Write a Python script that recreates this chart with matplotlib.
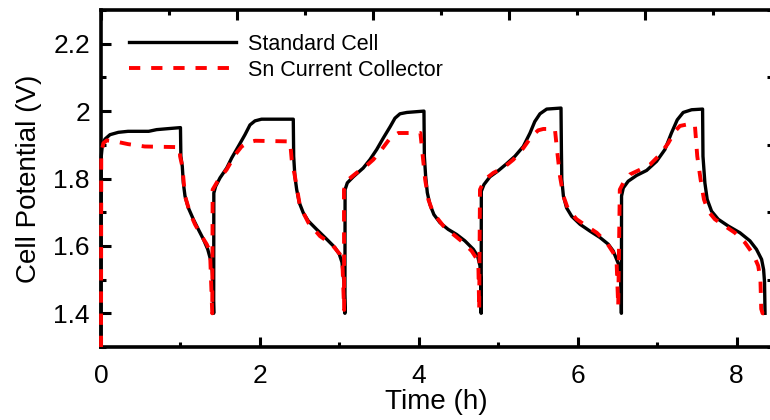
import matplotlib
matplotlib.use('Agg')
import matplotlib.pyplot as plt
from matplotlib.ticker import MultipleLocator, FormatStrFormatter

# data: time (h) and cell potential (V)
t_std = [0.0, 0.003, 0.017, 0.05, 0.113, 0.218, 0.34, 0.6, 0.70, 0.847, 1.0,
         1.005, 1.023, 1.036, 1.057, 1.099, 1.162, 1.225, 1.288, 1.343, 1.372, 1.393, 1.405, 1.418,
         1.42, 1.443, 1.498, 1.582, 1.645, 1.728, 1.812, 1.875, 1.938, 2.02, 2.42,
         2.425, 2.44, 2.463, 2.496, 2.546, 2.609, 2.714, 2.84, 2.945, 3.0, 3.033, 3.058, 3.07,
         3.072, 3.1, 3.175, 3.3, 3.385, 3.47, 3.553, 3.64, 3.7, 3.763, 3.85, 4.065,
         4.07, 4.086, 4.107, 4.14, 4.19, 4.266, 4.37, 4.476, 4.58, 4.686, 4.74, 4.77, 4.782, 4.785,
         4.787, 4.82, 4.895, 5.0, 5.106, 5.21, 5.315, 5.4, 5.46, 5.525, 5.61, 5.79,
         5.795, 5.80, 5.82, 5.86, 5.924, 6.03, 6.154, 6.28, 6.385, 6.447, 6.49, 6.523, 6.544, 6.55,
         6.552, 6.574, 6.636, 6.741, 6.868, 6.993, 7.098, 7.18, 7.253, 7.328, 7.434, 7.572,
         7.577, 7.601, 7.63, 7.685, 7.769, 7.895, 8.042, 8.168, 8.25, 8.315, 8.34, 8.352, 8.358]
v_std = [1.30, 1.866, 1.90, 1.917, 1.93, 1.937, 1.94, 1.94, 1.945, 1.948, 1.951,
         1.866, 1.836, 1.787, 1.748, 1.713, 1.679, 1.649, 1.620, 1.590, 1.565, 1.546, 1.511, 1.40,
         1.757, 1.777, 1.802, 1.831, 1.861, 1.895, 1.930, 1.959, 1.971, 1.976, 1.976,
         1.866, 1.807, 1.767, 1.728, 1.698, 1.674, 1.649, 1.620, 1.595, 1.575, 1.551, 1.492, 1.40,
         1.767, 1.787, 1.805, 1.831, 1.856, 1.886, 1.92, 1.954, 1.979, 1.992, 1.996, 2.0,
         1.866, 1.807, 1.758, 1.723, 1.693, 1.669, 1.649, 1.634, 1.615, 1.590, 1.570, 1.541, 1.472, 1.40,
         1.762, 1.782, 1.805, 1.823, 1.844, 1.866, 1.895, 1.935, 1.969, 1.992, 2.006, 2.009,
         1.885, 1.797, 1.748, 1.713, 1.688, 1.664, 1.644, 1.625, 1.605, 1.585, 1.560, 1.541, 1.501, 1.40,
         1.748, 1.772, 1.792, 1.809, 1.824, 1.851, 1.886, 1.935, 1.974, 1.996, 2.004, 2.006,
         1.866, 1.787, 1.738, 1.703, 1.679, 1.659, 1.639, 1.615, 1.590, 1.560, 1.53, 1.492, 1.40]

t_sn = [0.0, 0.003, 0.03, 0.072, 0.18, 0.34, 0.55, 0.99,
        0.995, 1.023, 1.057, 1.12, 1.183, 1.267, 1.33, 1.372, 1.40,
        1.405, 1.43, 1.48, 1.58, 1.69, 1.77, 1.854, 1.94, 2.38,
        2.40, 2.44, 2.504, 2.61, 2.756, 2.903, 3.008, 3.04, 3.06,
        3.058, 3.113, 3.218, 3.322, 3.427, 3.532, 3.64, 3.742, 4.02,
        4.05, 4.08, 4.12, 4.18, 4.31, 4.435, 4.56, 4.665, 4.72, 4.75, 4.76,
        4.77, 4.83, 4.94, 5.06, 5.19, 5.315, 5.42, 5.503, 5.567, 5.713,
        5.74, 5.777, 5.82, 5.88, 5.987, 6.11, 6.24, 6.364, 6.447, 6.49, 6.51,
        6.53, 6.574, 6.657, 6.783, 6.909, 7.035, 7.14, 7.224, 7.287, 7.37, 7.475,
        7.505, 7.547, 7.589, 7.643, 7.727, 7.853, 7.979, 8.105, 8.21, 8.272, 8.30, 8.31, 8.327, 8.356]
v_sn = [1.30, 1.876, 1.905, 1.913, 1.91, 1.902, 1.895, 1.893,
        1.866, 1.836, 1.748, 1.698, 1.664, 1.629, 1.605, 1.583, 1.40,
        1.767, 1.777, 1.797, 1.826, 1.871, 1.895, 1.907, 1.912, 1.91,
        1.856, 1.807, 1.718, 1.669, 1.629, 1.605, 1.575, 1.54, 1.41,
        1.767, 1.797, 1.817, 1.834, 1.856, 1.886, 1.92, 1.935, 1.935,
        1.866, 1.797, 1.738, 1.698, 1.659, 1.634, 1.61, 1.585, 1.565, 1.54, 1.41,
        1.767, 1.797, 1.817, 1.831, 1.856, 1.890, 1.925, 1.943, 1.947, 1.947,
        1.885, 1.807, 1.748, 1.708, 1.679, 1.659, 1.639, 1.610, 1.580, 1.55, 1.42,
        1.767, 1.787, 1.812, 1.826, 1.841, 1.871, 1.905, 1.940, 1.956, 1.960, 1.959,
        1.866, 1.797, 1.738, 1.703, 1.679, 1.659, 1.639, 1.610, 1.575, 1.541, 1.501, 1.413, 1.40, 1.40]

labels = ['Standard Cell', 'Sn Current Collector']

plt.rcParams['font.family'] = ['Liberation Sans', 'DejaVu Sans']

fig = plt.figure(figsize=(7.7, 4.2), dpi=100)
ax = fig.add_axes([0.1312, 0.1738, 0.8708, 0.8024])

ax.plot(t_std, v_std, color='black', lw=2.4, label=labels[0], clip_on=False,
        solid_joinstyle='round', zorder=3)
ax.plot(t_sn, v_sn, color='#ff0000', lw=2.8, ls=(0, (2.9, 2.8)), label=labels[1],
        clip_on=False, zorder=4)

ax.set_xlim(0, 8.44)
ax.set_ylim(1.3, 2.3)
ax.xaxis.set_major_locator(MultipleLocator(2))
ax.xaxis.set_minor_locator(MultipleLocator(1))
ax.yaxis.set_minor_locator(MultipleLocator(0.1))
ax.set_yticks([1.4, 1.6, 1.8, 2.0, 2.2])
ax.yaxis.set_major_formatter(FormatStrFormatter('%g'))

for s in ax.spines.values():
    s.set_linewidth(2.6)
ax.tick_params(which='both', direction='in', width=2.2, labelsize=19)
ax.tick_params(which='major', length=7)
ax.tick_params(axis='x', which='major', pad=12)
ax.tick_params(axis='y', which='major', pad=8)
ax.tick_params(which='minor', length=3.5)
ax.tick_params(which='minor', right=True)

ax.set_xlabel('Time (h)', fontsize=20, labelpad=1)
ax.set_ylabel('Cell Potential (V)', fontsize=20, labelpad=8)

# top axis with its own tick spacing
top = ax.twiny()
top.set_xlim(0, 9.86)
top.xaxis.set_major_locator(MultipleLocator(2))
top.xaxis.set_minor_locator(MultipleLocator(1))
top.tick_params(which='both', direction='in', width=2.2, labeltop=False)
top.tick_params(which='major', length=7)
top.tick_params(which='minor', length=3.5)
for s in top.spines.values():
    s.set_visible(False)

ax.legend(loc='upper left', bbox_to_anchor=(0.0422, 0.93), frameon=False,
          fontsize=15.5, handlelength=4.96, handletextpad=0.56,
          labelspacing=0.25, borderpad=0, borderaxespad=0)

fig.savefig('out.png', dpi=100)
